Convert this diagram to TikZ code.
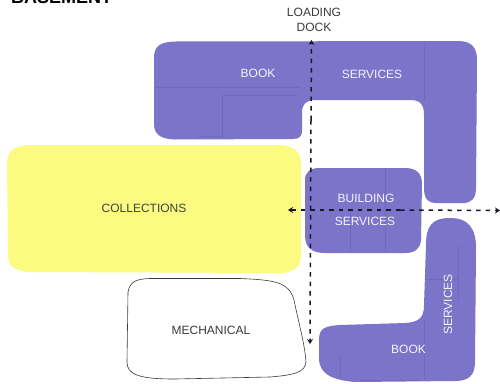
\documentclass[tikz,border=0pt]{standalone}
\usepackage{fontspec}
\setmainfont{Liberation Sans}
\usetikzlibrary{arrows.meta}
\definecolor{bookblue}{HTML}{7B74C9}
\definecolor{planline}{HTML}{706ABA}
\definecolor{collyellow}{HTML}{FAFB80}
\definecolor{inkgrey}{HTML}{3A3A3A}
\tikzset{
  zonelabel/.style={font=\fontsize{12}{14}\selectfont,text=white!92!bookblue,inner sep=0pt,align=center},
  darklabel/.style={font=\fontsize{12}{14}\selectfont,text=inkgrey,inner sep=0pt,align=center},
  zonefill/.style={fill=bookblue,draw=none},
  plan/.style={draw=planline,line width=0.5pt},
  flow/.style={draw=black!80!bookblue,line width=1.5pt,dash pattern=on 4.5pt off 5pt,-{Stealth[length=5pt,width=6pt]}},
}
\begin{document}
\begin{tikzpicture}[x=1pt,y=-1pt]
\useasboundingbox (0,0) rectangle (500,383);
% top book/services
\path[zonefill] (154,58) .. controls (154,46) and (160,42) .. (175,41.5) -- (458,41)
  .. controls (472,41) and (477,48) .. (477,60) -- (476,188)
  .. controls (476,198) and (472,203) .. (463,203) -- (437,203)
  .. controls (427,203) and (424,198) .. (424,188) -- (424,115)
  .. controls (424,104) and (420,100) .. (410,100) -- (315,100)
  .. controls (306,100) and (302,104) .. (302,113) -- (302,130)
  .. controls (302,137) and (299,139) .. (292,139) -- (175,139.5)
  .. controls (160,139) and (154,134) .. (154,124) -- cycle;
% yellow collections
\path[fill=collyellow] (7,165) .. controls (7,152) and (12,146) .. (30,145) -- (280,145)
  .. controls (295,146) and (301,152) .. (301,165) -- (301,255)
  .. controls (301,267) and (295,272) .. (280,273) -- (30,272)
  .. controls (14,271) and (8,266) .. (8,255) -- cycle;
% building services
\path[zonefill] (305,180) .. controls (305,172) and (310,168) .. (320,168) -- (405,168)
  .. controls (417,168) and (422,174) .. (422,184) -- (421,240)
  .. controls (420,249) and (415,253) .. (405,253) -- (325,253)
  .. controls (311,253) and (305,247) .. (305,235) -- cycle;
% bottom book/services
\path[zonefill] (426,245) .. controls (426,226) and (432,218) .. (450,218)
  .. controls (468,218) and (476,228) .. (476,248) -- (475,362)
  .. controls (475,376) and (468,381) .. (455,381) -- (355,382)
  .. controls (332,380) and (319,374) .. (319,358) -- (319,340)
  .. controls (319,328) and (325,326) .. (340,325) -- (405,323)
  .. controls (419,322) and (424,318) .. (424,305) -- cycle;
% plan lines
\draw[plan] (155,87) -- (300,87) (222,95) -- (222,139) (222,95) -- (298,95)
  (424,42) -- (424,100) (198,136) -- (222,136)
  (385,168) -- (385,252) (350,210) -- (350,252)
  (458,245) -- (458,300) (425,279) -- (458,279) (424,320) -- (424,380)
  (340,355) -- (340,378) (360,380) -- (420,380);
% mechanical
\draw[inkgrey,line width=0.6pt,fill=white] (128,292) .. controls (130,282) and (135,279) .. (150,278.5)
  -- (240,278.5) .. controls (275,280) and (289,282) .. (294,300)
  .. controls (298,320) and (305,345) .. (306,362)
  .. controls (305,372) and (295,375) .. (270,377) -- (175,379)
  .. controls (140,379) and (127,375) .. (127,362) -- cycle;
% labels
\node[font=\bfseries\fontsize{18}{20}\selectfont,anchor=base west,inner sep=0pt] (title) at (11,3) {BASEMENT};
\node[darklabel] (dock) at (314,19.5) {LOADING\\[1pt]DOCK};
\node[zonelabel] (book1) at (258,73.5) {BOOK};
\node[zonelabel] (serv1) at (372,74) {SERVICES};
\node[darklabel,text=black!75] (coll) at (144,208) {COLLECTIONS};
\node[zonelabel] (build) at (366,198) {BUILDING};
\node[zonelabel] (serv2) at (365,221) {SERVICES};
\node[darklabel] (mech) at (211,330) {MECHANICAL};
\node[zonelabel] (book2) at (408.5,349) {BOOK};
\node[zonelabel,rotate=90] (serv3) at (448,304.5) {SERVICES};
% connectors
\coordinate (dockin) at (311.5,40);
\coordinate (midup) at (311,120);
\coordinate (south) at (310,344);
\coordinate (west) at (288,210);
\coordinate (east) at (500,210.5);
\coordinate (midh) at (400,210);
\draw[flow] (midup) -- (dockin);
\draw[flow] (midup) -- (south);
\draw[flow] (midh) -- (west);
\draw[flow] (midh) -- (east);
\end{tikzpicture}
\end{document}
